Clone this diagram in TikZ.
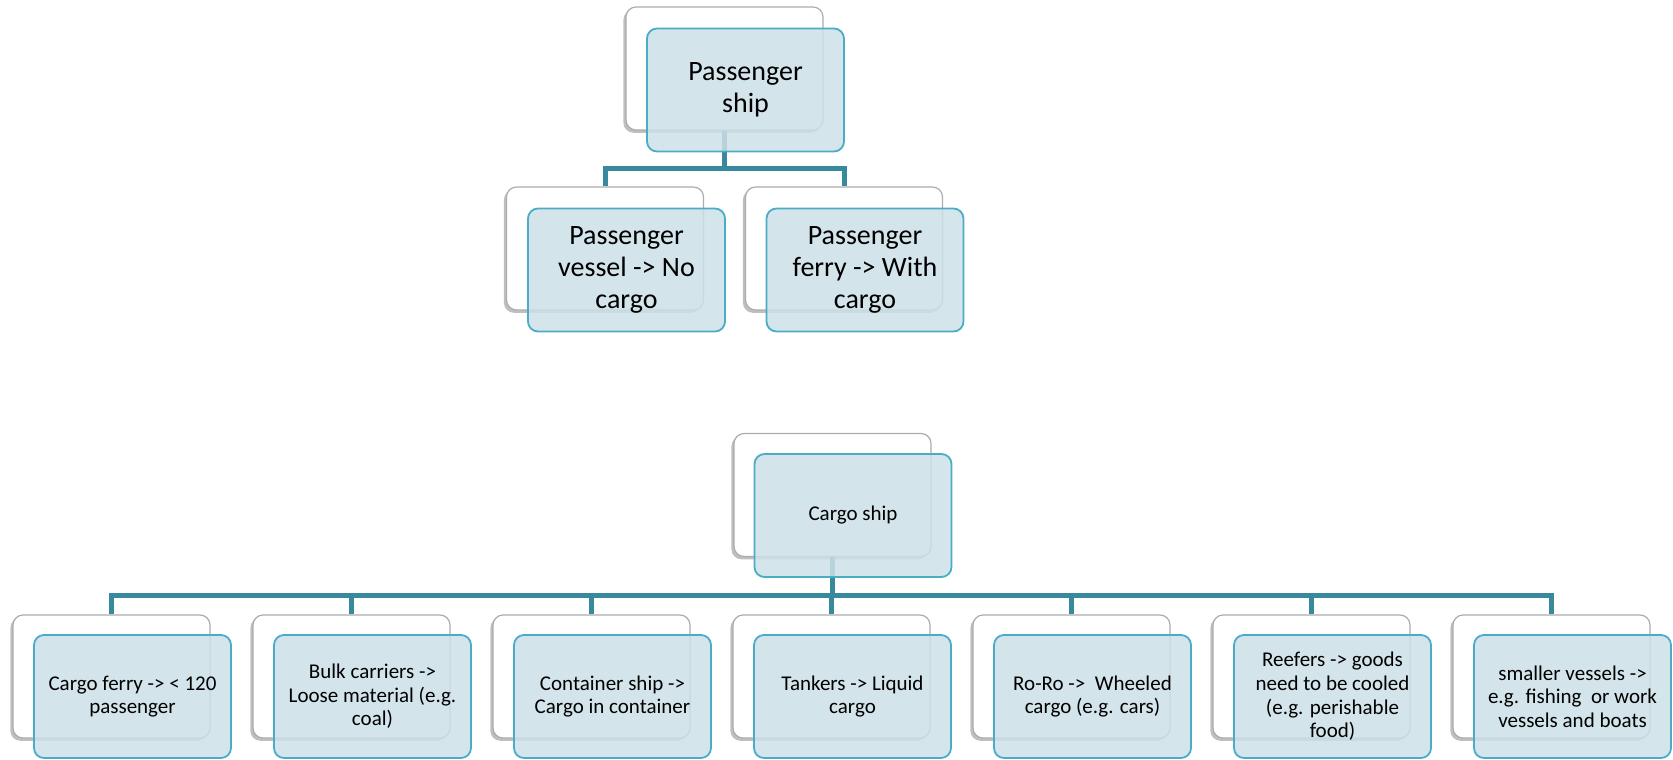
\documentclass[tikz,border=0pt]{standalone}
\usepackage{fontspec}
\setmainfont{Carlito}
\usetikzlibrary{shadows}
\definecolor{boxblue}{RGB}{205,224,232}
\definecolor{boxedge}{RGB}{75,172,198}
\definecolor{linkteal}{RGB}{56,137,156}

\begin{document}
\begin{tikzpicture}[x=0.5pt,y=-0.5pt,
  backbox/.style={draw=gray!65,fill=white,rounded corners=5pt,line width=0.6pt,
    minimum width=98.5pt,minimum height=61.5pt,
    drop shadow={shadow xshift=-1.3pt,shadow yshift=-1.4pt,opacity=0.5}},
  frontbox/.style={draw=boxedge,fill=boxblue,fill opacity=0.85,text opacity=1,
    rounded corners=5pt,line width=0.9pt,minimum width=98.5pt,minimum height=61.5pt,
    align=center,inner sep=2pt},
  bigtext/.style={font=\fontsize{14}{16}\selectfont},
  smalltext/.style={font=\fontsize{10.5}{11.8}\selectfont},
  link/.style={draw=linkteal,line width=2.5pt}]
\useasboundingbox (0,0) rectangle (1673,759);
% bakre bokser
\node[backbox] (psb) at (724.5,68.5) {};
\node[backbox] (pvb) at (605,248.5) {};
\node[backbox] (pfb) at (844,248.5) {};
\node[backbox] (csb) at (832.5,495) {};
\node[backbox] (c1b) at (111.5,676.5) {};
\node[backbox] (c2b) at (351.5,676.5) {};
\node[backbox] (c3b) at (591.5,676.5) {};
\node[backbox] (c4b) at (831.5,676.5) {};
\node[backbox] (c5b) at (1071.5,676.5) {};
\node[backbox] (c6b) at (1311.5,676.5) {};
\node[backbox] (c7b) at (1551.5,676.5) {};
% linjer
\coordinate (pbus) at (724.5,168.5);
\coordinate (cbus) at (832.5,595);
\draw[link] (psb.south) -- (pbus);
\draw[link] (pbus) -| (pvb.north);
\draw[link] (pbus) -| (pfb.north);
\draw[link] (csb.south) -- (cbus);
\draw[link] (cbus) -| (c1b.north);
\draw[link] (cbus) -| (c2b.north);
\draw[link] (cbus) -| (c3b.north);
\draw[link] (cbus) -| (c4b.north);
\draw[link] (cbus) -| (c5b.north);
\draw[link] (cbus) -| (c6b.north);
\draw[link] (cbus) -| (c7b.north);
% fremre bokser med tekst
\node[frontbox,bigtext] (ps) at (745.5,90) {Passenger\\ship};
\node[frontbox,bigtext] (pv) at (626.5,270) {Passenger\\vessel -> No\\cargo};
\node[frontbox,bigtext] (pf) at (865,270) {Passenger\\ferry -> With\\cargo};
\node[frontbox,smalltext] (cs) at (853,515.5) {Cargo ship};
\node[frontbox,smalltext] (c1) at (132.5,696.5) {Cargo ferry -> < 120\\passenger};
\node[frontbox,smalltext] (c2) at (372.5,696.5) {Bulk carriers ->\\Loose material (e.g.\\coal)};
\node[frontbox,smalltext] (c3) at (612.5,696.5) {Container ship ->\\Cargo in container};
\node[frontbox,smalltext] (c4) at (852.5,696.5) {Tankers -> Liquid\\cargo};
\node[frontbox,smalltext] (c5) at (1092.5,696.5) {Ro-Ro ->~ Wheeled\\cargo (e.g. cars)};
\node[frontbox,smalltext] (c6) at (1332.5,696.5) {Reefers -> goods\\need to be cooled\\(e.g. perishable\\food)};
\node[frontbox,smalltext] (c7) at (1572.5,696.5) {smaller vessels ->\\e.g. fishing~ or work\\vessels and boats};
\end{tikzpicture}
\end{document}
